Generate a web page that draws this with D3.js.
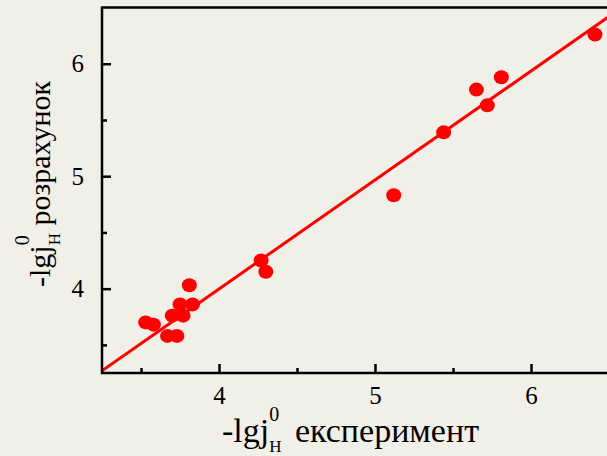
<!DOCTYPE html>
<html>
<head>
<meta charset="utf-8">
<script src="https://cdn.jsdelivr.net/npm/d3@7"></script>
<style>
body { margin: 0; background: #f1f0e8; }
</style>
</head>
<body>
<div id="chart-area"></div>
<script>
const expX  = [6.41, 5.81, 5.65, 5.72, 5.44, 5.12, 4.27, 4.30, 3.81, 3.83, 3.75, 3.77, 3.70, 3.53, 3.58, 3.67, 3.73];
const calcY = [6.26, 5.88, 5.77, 5.63, 5.39, 4.83, 4.25, 4.15, 4.03, 3.86, 3.86, 3.76, 3.76, 3.70, 3.68, 3.58, 3.58];
const fitX = [3.25, 6.5];
const fitY = [3.27, 6.42];
const xMajor = [4, 5, 6];
const xMinor = [3.5, 4.5, 5.5, 6.5];
const yMajor = [4, 5, 6];
const yMinor = [3.5, 4.5, 5.5];

const width = 607, height = 456;
const plot = {left: 102, right: 609, top: 7.5, bottom: 373};
const font = "'Liberation Serif', 'Times New Roman', serif";

var svg = d3.select("#chart-area").append("svg")
	.attr("width", width)
	.attr("height", height)
	.style("background", "#f1f0e8");

var x = d3.scaleLinear().domain([3.25, 6.5]).range([plot.left, plot.right]);
var y = d3.scaleLinear().domain([3.25, 6.5]).range([plot.bottom, plot.top]);

svg.append("clipPath").attr("id", "plot")
	.append("rect")
	.attr("x", plot.left).attr("y", plot.top)
	.attr("width", plot.right - plot.left).attr("height", plot.bottom - plot.top);

// fit line
var line = d3.line().x(d => x(d[0])).y(d => y(d[1]));
svg.append("path")
	.datum(fitX.map((v, i) => [v, fitY[i]]))
	.attr("clip-path", "url(#plot)")
	.attr("fill", "none")
	.attr("stroke", "#ff0000")
	.attr("stroke-width", 3)
	.attr("d", line);

// points
svg.selectAll(".dot")
	.data(expX)
	.enter().append("ellipse")
	.attr("class", "dot")
	.attr("cx", d => x(d))
	.attr("cy", (d, i) => y(calcY[i]))
	.attr("rx", 7.5)
	.attr("ry", 7)
	.attr("fill", "#ff0000");

// axes, ticks pointing inwards
function styleAxis(g) {
	g.select(".domain").remove();
	g.selectAll("line").attr("stroke", "#000").attr("stroke-width", 2.5);
	g.selectAll("text")
		.attr("fill", "#000")
		.style("font-family", font)
		.style("font-size", "25px");
}

svg.append("g")
	.attr("transform", `translate(0,${plot.bottom})`)
	.call(d3.axisBottom(x).tickValues(xMinor).tickSize(-5).tickFormat(""))
	.call(styleAxis);

svg.append("g")
	.attr("transform", `translate(0,${plot.bottom})`)
	.call(d3.axisBottom(x).tickValues(xMajor).tickSize(-9).tickPadding(13).tickFormat(d3.format("d")))
	.call(styleAxis);

svg.append("g")
	.attr("transform", `translate(${plot.left},0)`)
	.call(d3.axisLeft(y).tickValues(yMinor).tickSize(-5).tickFormat(""))
	.call(styleAxis);

svg.append("g")
	.attr("transform", `translate(${plot.left},0)`)
	.call(d3.axisLeft(y).tickValues(yMajor).tickSize(-9).tickPadding(18).tickFormat(d3.format("d")))
	.call(styleAxis);

// frame
svg.append("rect")
	.attr("x", plot.left).attr("y", plot.top)
	.attr("width", plot.right - plot.left).attr("height", plot.bottom - plot.top)
	.attr("fill", "none")
	.attr("stroke", "#000")
	.attr("stroke-width", 2.5);

// axis titles with stacked super/subscript
function title(g, size, rest, gap) {
	var t = g.append("text")
		.style("font-family", font)
		.style("font-size", size + "px")
		.attr("fill", "#000");
	t.append("tspan").text("-lgj");
	t.append("tspan").text("0").style("font-size", "20px").attr("dy", -21);
	t.append("tspan").text("H").style("font-size", "17px").attr("dx", -10).attr("dy", 31);
	t.append("tspan").text(" " + rest).attr("dx", gap).attr("dy", -10);
	return t;
}

title(svg.append("g").attr("transform", "translate(222,442)"), 34, "експеримент", 5);
title(svg.append("g").attr("transform", "translate(50,287) rotate(-90)"), 30, "розрахунок", 0);
</script>
</body>
</html>
